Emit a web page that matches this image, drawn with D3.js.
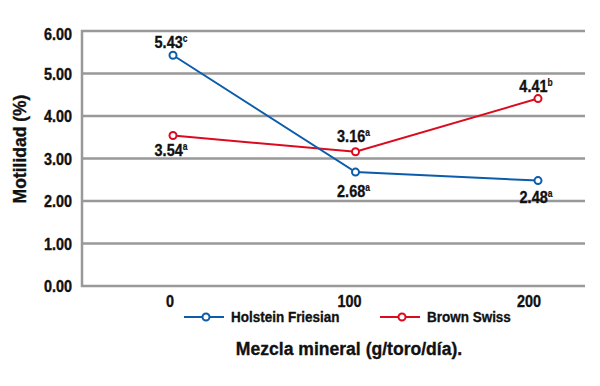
<!DOCTYPE html>
<html>
<head>
<meta charset="utf-8">
<script src="https://cdn.jsdelivr.net/npm/d3@7"></script>
<style>
  body { margin: 0; background: #fff; }
  text { font-family: "Liberation Sans", Arial, sans-serif; font-weight: bold; fill: #111; stroke: #111; stroke-width: 0.35px; }
</style>
</head>
<body>
<div id="chart"></div>
<script>
var doses = [0, 100, 200];
var holstein = [5.43, 2.68, 2.48];
var brown = [3.54, 3.16, 4.41];
var holsteinLetters = ["c", "a", "a"];
var brownLetters = ["a", "a", "b"];
var yTicks = [0, 1, 2, 3, 4, 5, 6];

var fullWidth = 600;
var fullHeight = 386;

var svg = d3.select("#chart")
            .append("svg")
            .attr("width", fullWidth)
            .attr("height", fullHeight);

var xScale = d3.scaleLinear().domain([0, 200]).range([173, 538]);
var xLab = d3.scaleLinear().domain([0, 200]).range([170, 529]); // tick labels sit a bit left
var yScale = d3.scaleLinear().domain([0, 6]).range([286, 31]);

var grey = "#999";
var blue = "#0b5dab";
var red = "#dc0a1e";

// condensed text: translate to x,y then squeeze horizontally
function label(x, y, size, sx, anchor) {
  return svg.append("text")
            .attr("transform", "translate(" + x + "," + y + ") scale(" + sx + ",1)")
            .attr("text-anchor", anchor || "start")
            .style("font-size", size + "px");
}

// grid lines
svg.selectAll(".grid")
   .data(yTicks)
   .enter().append("line")
   .attr("x1", 81).attr("x2", 585)
   .attr("y1", function(d){ return yScale(d); })
   .attr("y2", function(d){ return yScale(d); })
   .attr("stroke", grey).attr("stroke-width", 2.5);

// left axis line
svg.append("line")
   .attr("x1", 82).attr("x2", 82)
   .attr("y1", yScale(6) - 1).attr("y2", yScale(0) + 1)
   .attr("stroke", grey).attr("stroke-width", 2.5);

// y tick labels (top one sits a little lower in the original)
yTicks.forEach(function(d){
  var off = d === 6 ? 8.5 : 6;
  label(72, yScale(d) + off, 16, 0.9, "end").text(d.toFixed(2));
});

// x tick labels
doses.forEach(function(d){
  label(xLab(d), 307, 16, 0.9, "middle").text(d);
});

// axis titles
svg.append("text")
   .attr("transform", "translate(26,149) rotate(-90) scale(1,1)")
   .attr("text-anchor", "middle")
   .style("font-size", "17.5px")
   .text("Motilidad (%)");

label(349, 355, 18.5, 0.95, "middle").text("Mezcla mineral (g/toro/día).");

var line = d3.line()
             .x(function(d, i){ return xScale(doses[i]); })
             .y(function(d){ return yScale(d); });

function drawSeries(vals, color) {
  svg.append("path")
     .datum(vals)
     .attr("d", line)
     .attr("fill", "none")
     .attr("stroke", color)
     .attr("stroke-width", 2);
  svg.selectAll(null)
     .data(vals)
     .enter().append("circle")
     .attr("cx", function(d, i){ return xScale(doses[i]); })
     .attr("cy", function(d){ return yScale(d); })
     .attr("r", 3.5)
     .attr("fill", "#fff")
     .attr("stroke", color)
     .attr("stroke-width", 2);
}
drawSeries(brown, red);
drawSeries(holstein, blue);

// value labels: dy is where the label sits relative to the point
function drawLabels(vals, letters, dys) {
  vals.forEach(function(v, i){
    var t = label(xScale(doses[i]) - 2, yScale(v) + dys[i], 17, 0.85, "middle");
    t.append("tspan").text(v.toFixed(2));
    t.append("tspan").attr("dy", -6).style("font-size", "10px").style("stroke-width", "0.2px").text(letters[i]);
  });
}
drawLabels(holstein, holsteinLetters, [-7, 25, 22]);
drawLabels(brown, brownLetters, [20, -10, -7]);

// legend
var legend = [
  {name: "Holstein Friesian", color: blue, x: 184},
  {name: "Brown Swiss", color: red, x: 380}
];
legend.forEach(function(l){
  svg.append("line")
     .attr("x1", l.x).attr("x2", l.x + 40)
     .attr("y1", 317).attr("y2", 317)
     .attr("stroke", l.color).attr("stroke-width", 2);
  svg.append("circle")
     .attr("cx", l.x + 22).attr("cy", 317).attr("r", 3.5)
     .attr("fill", "#fff").attr("stroke", l.color).attr("stroke-width", 2);
  label(l.x + 47, 322, 15.5, 0.87).text(l.name);
});
</script>
</body>
</html>
